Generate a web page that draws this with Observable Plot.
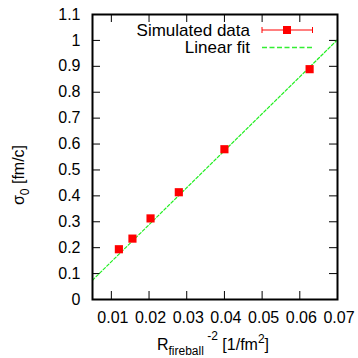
<!DOCTYPE html>
<html><head><meta charset="utf-8">
<script src="https://cdn.jsdelivr.net/npm/d3@7"></script>
<script src="https://cdn.jsdelivr.net/npm/@observablehq/plot@0.6"></script>
<style>body{margin:0;background:#fff}svg{font-family:"Liberation Sans",Arial,sans-serif}</style>
</head><body><div id="chart"></div>
<script>
const rInv2 = [0.0120, 0.0156, 0.0204, 0.0279, 0.0400, 0.0626];
const sigma0 = [0.194, 0.235, 0.313, 0.414, 0.580, 0.889];
const fitX = [0.005, 0.070];
const fitY = [0.0745, 1.0026];
const xTicks = [0.01, 0.02, 0.03, 0.04, 0.05, 0.06, 0.07];
const yTicks = [0, 0.1, 0.2, 0.3, 0.4, 0.5, 0.6, 0.7, 0.8, 0.9, 1, 1.1];
const legendLabels = ["Simulated data", "Linear fit"];

const W = 358, H = 358, mL = 92, mR = 21, mT = 14, mB = 59;
const ph = H - mT - mB, pw = W - mL - mR;
const pts = rInv2.map((x, i) => ({x, y: sigma0[i]}));
const fit = fitX.map((x, i) => ({x, y: fitY[i]}));

const chart = Plot.plot({
  width: W, height: H, marginLeft: mL, marginRight: mR, marginTop: mT, marginBottom: mB,
  style: {fontFamily: '"Liberation Sans",Arial,sans-serif', fontSize: "16px", color: "#000"},
  x: {domain: [0.005, 0.07]},
  y: {domain: [0, 1.1]},
  marks: [
    Plot.axisX(xTicks, {tickSize: 0, tickPadding: 12, label: null, fontSize: 16, dx: 1.5, tickFormat: d => String(+d.toFixed(2))}),
    Plot.axisY(yTicks, {tickSize: 0, tickPadding: 12, label: null, fontSize: 16, tickFormat: d => String(+d.toFixed(1))}),
    Plot.ruleX(xTicks, {x: d => d, insetTop: ph - 8, stroke: "#000", strokeWidth: 1}),
    Plot.ruleX(xTicks, {x: d => d, insetBottom: ph - 8, stroke: "#000", strokeWidth: 1}),
    Plot.ruleY(yTicks, {y: d => d, insetRight: pw - 8, stroke: "#000", strokeWidth: 1}),
    Plot.ruleY(yTicks, {y: d => d, insetLeft: pw - 8, stroke: "#000", strokeWidth: 1}),
    Plot.line(fit, {x: "x", y: "y", stroke: "#22ee22", strokeWidth: 1.2, strokeDasharray: "3,2"}),
    Plot.dot(pts, {x: "x", y: "y", symbol: "square", r: 4.6, fill: "#ff0000", stroke: "none"}),
    Plot.frame({stroke: "#000", strokeWidth: 2})
  ]
});
document.getElementById("chart").appendChild(chart);

const svg = d3.select(chart);
// legend
const lg = svg.append("g").attr("font-size", 17).attr("fill", "#000");
lg.append("text").attr("x", 250).attr("y", 30).attr("text-anchor", "end").attr("dy", "0.35em").text(legendLabels[0]);
lg.append("text").attr("x", 250).attr("y", 47.5).attr("text-anchor", "end").attr("dy", "0.35em").text(legendLabels[1]);
lg.append("line").attr("x1", 262).attr("x2", 312.5).attr("y1", 30).attr("y2", 30).attr("stroke", "#ff0000");
lg.append("line").attr("x1", 262).attr("x2", 262).attr("y1", 27).attr("y2", 33).attr("stroke", "#ff0000");
lg.append("line").attr("x1", 312.5).attr("x2", 312.5).attr("y1", 27).attr("y2", 33).attr("stroke", "#ff0000");
lg.append("rect").attr("x", 283).attr("y", 26).attr("width", 8).attr("height", 8).attr("fill", "#ff0000");
lg.append("line").attr("x1", 262).attr("x2", 312.5).attr("y1", 47.5).attr("y2", 47.5).attr("stroke", "#33ee33").attr("stroke-width", 1.3).attr("stroke-dasharray", "5,2.5");

// axis labels
const xl = svg.append("text").attr("x", 213).attr("y", 350).attr("text-anchor", "middle").attr("font-size", 16).attr("fill", "#000");
xl.append("tspan").text("R");
xl.append("tspan").attr("font-size", 12).attr("dy", 5).text("fireball");
xl.append("tspan").attr("font-size", 12).attr("dy", -15).text(" -2");
xl.append("tspan").attr("dy", 10).text(" [1/fm");
xl.append("tspan").attr("font-size", 12).attr("dy", -7).text("2");
xl.append("tspan").attr("dy", 7).text("]");

const yl = svg.append("text").attr("transform", "translate(24,175) rotate(-90)").attr("text-anchor", "middle").attr("font-size", 16).attr("fill", "#000");
yl.append("tspan").text("σ");
yl.append("tspan").attr("font-size", 12).attr("dy", 5).text("0");
yl.append("tspan").attr("dy", -5).text(" [fm/c]");
</script></body></html>
